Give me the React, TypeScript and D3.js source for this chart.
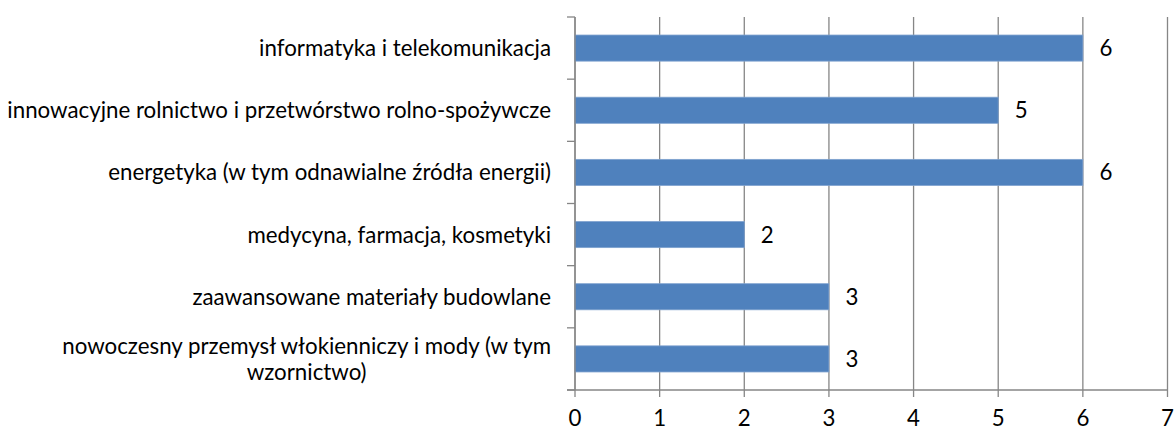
import { useEffect, useRef } from "react";
import * as d3 from "d3";

const categories = [
  "informatyka i telekomunikacja",
  "innowacyjne rolnictwo i przetwórstwo rolno-spożywcze",
  "energetyka (w tym odnawialne źródła energii)",
  "medycyna, farmacja, kosmetyki",
  "zaawansowane materiały budowlane",
  "nowoczesny przemysł włokienniczy i mody (w tym wzornictwo)",
];
const values = [6, 5, 6, 2, 3, 3];
const xTicks = [0, 1, 2, 3, 4, 5, 6, 7];

const width = 1175;
const height = 428;
const font = "Lato, 'Open Sans', sans-serif";
const fs = 22.3;

const App = () => {
  const svgRef = useRef<SVGSVGElement>(null);

  useEffect(() => {
    const svg = d3.select(svgRef.current);
    svg.selectAll("*").remove();

    const x = d3.scaleLinear().domain([0, 7]).range([575, 1167.5]);
    const y = d3.scaleBand().domain(categories).range([17, 390]).paddingInner(0.58).paddingOuter(0.29);

    const grid = "#868686";

    // vertical gridlines + tick marks below axis
    svg
      .append("g")
      .selectAll("line")
      .data(xTicks)
      .join("line")
      .attr("x1", (d) => x(d))
      .attr("x2", (d) => x(d))
      .attr("y1", 17)
      .attr("y2", 397)
      .attr("stroke", grid)
      .attr("stroke-width", 1.3);

    // category tick marks on the left axis
    const catTicks = d3.range(categories.length + 1).map((i) => 17 + (i * (390 - 17)) / categories.length);
    svg
      .append("g")
      .selectAll("line")
      .data(catTicks)
      .join("line")
      .attr("x1", 567)
      .attr("x2", 575)
      .attr("y1", (d) => d)
      .attr("y2", (d) => d)
      .attr("stroke", grid)
      .attr("stroke-width", 1.3);

    // bottom axis line
    svg
      .append("line")
      .attr("x1", 567)
      .attr("x2", x(7))
      .attr("y1", 390)
      .attr("y2", 390)
      .attr("stroke", grid)
      .attr("stroke-width", 1.3);

    // bars
    svg
      .append("g")
      .selectAll("rect")
      .data(values)
      .join("rect")
      .attr("x", x(0))
      .attr("y", (d, i) => y(categories[i])!)
      .attr("width", (d) => x(d) - x(0))
      .attr("height", y.bandwidth())
      .attr("fill", "#4f81bd")
      .attr("stroke", "#7fa2cf")
      .attr("stroke-width", 0.8);

    // left axis line over bars
    svg
      .append("line")
      .attr("x1", 575)
      .attr("x2", 575)
      .attr("y1", 17)
      .attr("y2", 390)
      .attr("stroke", grid)
      .attr("stroke-width", 1.3);

    // data labels
    svg
      .append("g")
      .selectAll("text")
      .data(values)
      .join("text")
      .attr("x", (d) => x(d) + 23)
      .attr("y", (d, i) => y(categories[i])! + y.bandwidth() / 2 + 8)
      .attr("text-anchor", "middle")
      .attr("font-family", font)
      .attr("font-size", fs)
      .attr("fill", "#000")
      .text((d) => d);

    // x tick labels
    svg
      .append("g")
      .selectAll("text")
      .data(xTicks)
      .join("text")
      .attr("x", (d) => x(d))
      .attr("y", 426)
      .attr("text-anchor", "middle")
      .attr("font-family", font)
      .attr("font-size", fs)
      .attr("fill", "#000")
      .text((d) => d);

    // category labels, wrapped when too long
    const labelRight = 551;
    const maxWidth = 545;
    const lineH = 26;
    const measure = (s: string) => {
      const t = svg.append("text").attr("font-family", font).attr("font-size", fs).text(s);
      const w = (t.node() as SVGTextElement).getComputedTextLength();
      t.remove();
      return w;
    };
    categories.forEach((cat) => {
      const cy = y(cat)! + y.bandwidth() / 2;
      let lines = [cat];
      if (measure(cat) > maxWidth) {
        lines = [];
        let cur = "";
        cat.split(" ").forEach((w) => {
          const test = cur ? cur + " " + w : w;
          if (measure(test) > maxWidth && cur) {
            lines.push(cur);
            cur = w;
          } else cur = test;
        });
        if (cur) lines.push(cur);
      }
      const blockW = Math.max(...lines.map(measure));
      const top = cy - ((lines.length - 1) * lineH) / 2;
      lines.forEach((l, i) => {
        svg
          .append("text")
          .attr("font-family", font)
          .attr("font-size", fs)
          .attr("fill", "#000")
          .attr("x", lines.length > 1 ? labelRight - blockW / 2 : labelRight)
          .attr("text-anchor", lines.length > 1 ? "middle" : "end")
          .attr("y", top + i * lineH + 8)
          .text(l);
      });
    });
  }, []);

  return (
    <svg
      ref={svgRef}
      width={width}
      height={height}
      style={{ position: "absolute", left: 0, top: 0, background: "#fff" }}
    />
  );
};

export default App;
